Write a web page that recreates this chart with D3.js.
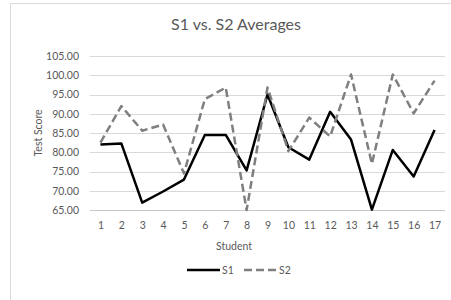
<!DOCTYPE html>
<html>
<head>
<meta charset="utf-8">
<script src="https://cdn.jsdelivr.net/npm/d3@7"></script>
<style>
    body { margin: 0; background: #fff; }
    text { font-family: Lato, "Open Sans", sans-serif; fill: #595959; }
</style>
</head>
<body>
<div id="chart"></div>
<script>
// Chart data
const students = d3.range(1, 18).map(String);
const s1 = [82.0, 82.3, 66.9, 69.8, 72.9, 84.5, 84.5, 75.3, 95.0, 81.3, 78.1, 90.5, 83.3, 65.1, 80.6, 73.7, 85.8];
const s2 = [82.5, 92.0, 85.6, 87.2, 74.5, 93.8, 96.8, 65.0, 96.8, 80.3, 89.0, 84.1, 100.2, 77.0, 100.2, 90.1, 98.6];
const yTicks = [65, 70, 75, 80, 85, 90, 95, 100, 105];
const seriesNames = ['S1', 'S2'];

const width = 451, height = 300;
const margin = { top: 56, right: 6, bottom: 90, left: 90 };

const svg = d3.select('#chart')
    .append('svg')
    .attr('width', width)
    .attr('height', height);

// Chart frame (continues past the window at right and bottom)
svg.append('rect')
    .attr('x', 10.5)
    .attr('y', 3.5)
    .attr('width', 500)
    .attr('height', 400)
    .attr('fill', 'none')
    .attr('stroke', '#d9d9d9');

const x = d3.scalePoint()
    .domain(students)
    .range([margin.left, width - margin.right])
    .padding(0.5);

const y = d3.scaleLinear()
    .domain([65, 105])
    .range([height - margin.bottom, margin.top]);

// Gridlines
svg.append('g')
    .selectAll('line')
    .data(yTicks)
    .join('line')
    .attr('x1', margin.left)
    .attr('x2', width - margin.right)
    .attr('y1', d => Math.round(y(d)) + 0.5)
    .attr('y2', d => Math.round(y(d)) + 0.5)
    .attr('stroke', d => d === 65 ? '#c8c8c8' : '#d9d9d9')
    .attr('stroke-width', 1);

// Y axis labels
const yAxis = svg.append('g')
    .attr('transform', `translate(${margin.left - 8},0)`)
    .call(d3.axisLeft(y).tickValues(yTicks).tickFormat(d3.format('.2f')).tickSize(0));
yAxis.select('.domain').remove();
yAxis.selectAll('text').attr('font-size', 10.5).attr('fill', '#595959');

// X axis labels
const xAxis = svg.append('g')
    .attr('transform', `translate(0,${height - margin.bottom + 9})`)
    .call(d3.axisBottom(x).tickSize(0));
xAxis.select('.domain').remove();
xAxis.selectAll('text').attr('font-size', 10.5).attr('fill', '#595959');

// Title
svg.append('text')
    .attr('x', 236)
    .attr('y', 30)
    .attr('text-anchor', 'middle')
    .attr('font-size', 16)
    .text('S1 vs. S2 Averages');

// Axis titles
svg.append('text')
    .attr('x', 234)
    .attr('y', 250)
    .attr('text-anchor', 'middle')
    .attr('font-size', 10.5)
    .text('Student');

svg.append('text')
    .attr('transform', `translate(42,${y(85)}) rotate(-90)`)
    .attr('text-anchor', 'middle')
    .attr('font-size', 10.5)
    .text('Test Score');

// Lines
const line = d3.line()
    .x((d, i) => x(students[i]))
    .y(d => y(d));

const styles = [
    { data: s1, color: '#000000', dash: null },
    { data: s2, color: '#7f7f7f', dash: '8,4' }
];

styles.forEach(s => {
    svg.append('path')
        .datum(s.data)
        .attr('d', line)
        .attr('fill', 'none')
        .attr('stroke', s.color)
        .attr('stroke-width', 2.5)
        .attr('stroke-linejoin', 'round')
        .attr('stroke-dasharray', s.dash);
});

// Legend
const legend = svg.append('g').attr('transform', 'translate(187,270)');
const legendItems = legend.selectAll('g')
    .data(seriesNames)
    .join('g')
    .attr('transform', (d, i) => `translate(${i * 57},0)`);

legendItems.append('line')
    .attr('x1', 0)
    .attr('x2', 33)
    .attr('stroke', (d, i) => styles[i].color)
    .attr('stroke-width', 2.5)
    .attr('stroke-dasharray', (d, i) => styles[i].dash);

legendItems.append('text')
    .attr('x', 35)
    .attr('y', 4)
    .attr('font-size', 10.5)
    .text(d => d);
</script>
</body>
</html>
